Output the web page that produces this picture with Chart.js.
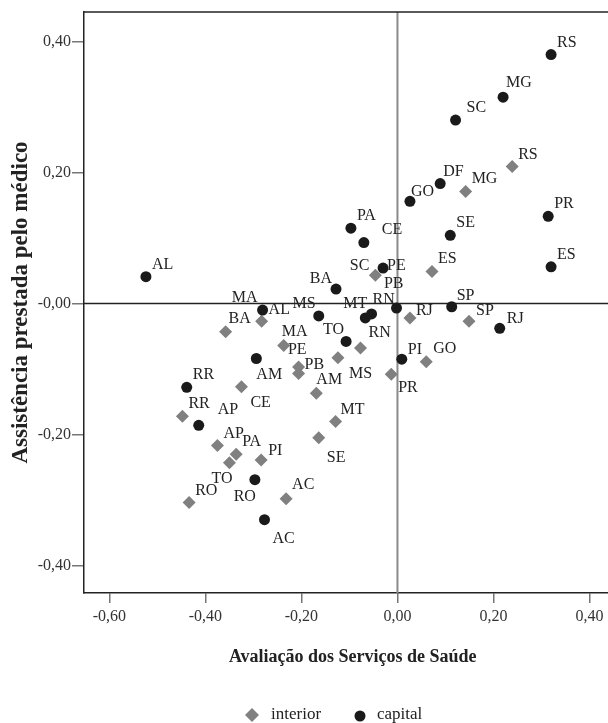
<!DOCTYPE html>
<html>
<head>
<meta charset="utf-8">
<script src="https://cdn.jsdelivr.net/npm/chart.js@4.4.1/dist/chart.umd.min.js"></script>
<style>
  html, body { margin: 0; padding: 0; background: #fff; overflow: hidden; }
  canvas { display: block; }
</style>
</head>
<body>
<!-- the plot frame runs past the right edge of the picture, so the canvas is a bit wider than the window -->
<canvas id="chart" width="628" height="723"></canvas>
<script>
// Capitais
const capitalStates = ["RS", "MG", "SC", "DF", "GO", "PR", "SE", "PA", "CE", "AL", "ES", "PE", "BA", "MA",
    "MS", "MT", "RN", "PB", "SP", "RJ", "TO", "AM", "PI", "RR", "AP", "RO", "AC"];
const capitalX = [0.320, 0.220, 0.121, 0.089, 0.026, 0.314, 0.110, -0.097, -0.070, -0.524, 0.320, -0.030, -0.128, -0.281,
    -0.164, -0.067, -0.054, -0.002, 0.113, 0.213, -0.107, -0.294, 0.009, -0.439, -0.414, -0.297, -0.277];
const capitalY = [0.380, 0.315, 0.280, 0.183, 0.156, 0.133, 0.104, 0.115, 0.093, 0.041, 0.056, 0.054, 0.022, -0.010,
    -0.019, -0.022, -0.016, -0.007, -0.005, -0.038, -0.058, -0.084, -0.085, -0.128, -0.186, -0.269, -0.330];

// Interior
const interiorStates = ["RS", "MG", "SC", "ES", "RJ", "SP", "AL", "BA", "MA", "RN", "MS", "GO", "PE", "PB",
    "PR", "CE", "AM", "MT", "RR", "SE", "AP", "PA", "TO", "PI", "RO", "AC"];
const interiorX = [0.239, 0.142, -0.046, 0.072, 0.026, 0.149, -0.283, -0.358, -0.237, -0.077, -0.124, 0.060, -0.206, -0.206,
    -0.013, -0.325, -0.169, -0.129, -0.448, -0.164, -0.375, -0.336, -0.350, -0.284, -0.434, -0.232];
const interiorY = [0.209, 0.171, 0.043, 0.049, -0.022, -0.027, -0.027, -0.043, -0.064, -0.068, -0.083, -0.089, -0.097, -0.107,
    -0.108, -0.127, -0.137, -0.180, -0.172, -0.205, -0.217, -0.230, -0.243, -0.239, -0.304, -0.298];

// Eixos
const xTicks = [-0.6, -0.4, -0.2, 0, 0.2, 0.4];
const xTickLabels = ["-0,60", "-0,40", "-0,20", "0,00", "0,20", "0,40"];
const yTicks = [-0.4, -0.2, 0, 0.2, 0.4];
const yTickLabels = ["-0,40", "-0,20", "-0,00", "0,20", "0,40"];

const SERIF = "'Liberation Serif', 'Times New Roman', serif";

// label placement next to each marker: [dx, dy, align]
const labelOffsets = {
    "c:MG": [3, -10, "l"], "c:SC": [11, -8, "l"], "c:DF": [3, -8, "l"], "c:GO": [1, -5, "l"],
    "c:CE": [18, -9, "l"], "c:PE": [4, 2, "l"], "c:BA": [-4, -6, "r"], "c:MA": [-5, -8, "r"],
    "c:MS": [-3, -8, "r"], "c:MT": [2, -10, "r"], "c:RN": [1, -10, "l"], "c:PB": [7, -20, "r"],
    "c:TO": [-2, -7, "r"], "c:AM": [0, 20, "l"], "c:AP": [19, -11, "l"], "c:RO": [1, 21, "r"],
    "c:AC": [8, 23, "l"], "c:PI": [6, -5, "l"], "c:RJ": [7, -5, "l"], "c:SP": [5, -7, "l"],
    "i:SC": [-6, -5, "r"], "i:AL": [7, -7, "l"], "i:RJ": [6, -3, "l"], "i:SP": [7, -6, "l"],
    "i:BA": [3, -9, "l"], "i:RN": [8, -11, "l"], "i:MA": [-2, -9, "l"], "i:PE": [8, -13, "r"],
    "i:PB": [6, -5, "l"], "i:MS": [11, 20, "l"], "i:AM": [0, -9, "l"], "i:PR": [7, 18, "l"],
    "i:CE": [9, 20, "l"], "i:SE": [8, 24, "l"], "i:TO": [3, 20, "r"], "i:PI": [7, -5, "l"],
    "i:AC": [6, -10, "l"], "i:GO": [7, -9, "l"], "i:MT": [5, -7, "l"]
};

function toPoints(xs, ys) {
    return xs.map((x, i) => ({ x: x, y: ys[i] }));
}

// state labels beside the markers
const labelPlugin = {
    id: "stateLabels",
    afterDatasetsDraw(chart) {
        const ctx = chart.ctx;
        ctx.save();
        ctx.font = "16px " + SERIF;
        ctx.fillStyle = "#222";
        ctx.textBaseline = "alphabetic";
        chart.data.datasets.forEach((ds, di) => {
            chart.getDatasetMeta(di).data.forEach((el, i) => {
                const name = ds.names[i];
                const off = labelOffsets[ds.key + ":" + name] || [6, -8, "l"];
                ctx.textAlign = off[2] === "r" ? "right" : "left";
                ctx.fillText(name, el.x + off[0], el.y + off[1]);
            });
        });
        ctx.restore();
    }
};

// reference lines at zero + top of frame + legend
const framePlugin = {
    id: "frame",
    beforeDatasetsDraw(chart) {
        const { ctx, chartArea: a, scales } = chart;
        const x0 = scales.x.getPixelForValue(0);
        const y0 = scales.y.getPixelForValue(0);
        ctx.save();
        ctx.strokeStyle = "#8a8a8a";
        ctx.lineWidth = 2;
        ctx.beginPath();
        ctx.moveTo(x0, a.top);
        ctx.lineTo(x0, a.bottom);
        ctx.stroke();
        ctx.strokeStyle = "#222";
        ctx.lineWidth = 1.3;
        ctx.beginPath();
        ctx.moveTo(a.left, y0);
        ctx.lineTo(a.right, y0);
        ctx.stroke();
        ctx.restore();
    },
    afterDraw(chart) {
        const { ctx, chartArea: a } = chart;
        ctx.save();
        ctx.strokeStyle = "#222";
        ctx.lineWidth = 1.5;
        ctx.beginPath();
        ctx.moveTo(a.left, a.top);
        ctx.lineTo(a.right, a.top);
        ctx.stroke();

        // legend
        const ly = 715;
        ctx.fillStyle = "#808080";
        ctx.beginPath();
        ctx.moveTo(252, ly - 7);
        ctx.lineTo(259, ly);
        ctx.lineTo(252, ly + 7);
        ctx.lineTo(245, ly);
        ctx.closePath();
        ctx.fill();
        ctx.fillStyle = "#1a1a1a";
        ctx.beginPath();
        ctx.arc(360, ly + 1, 5.5, 0, Math.PI * 2);
        ctx.fill();
        ctx.fillStyle = "#222";
        ctx.font = "17px " + SERIF;
        ctx.textAlign = "left";
        ctx.textBaseline = "alphabetic";
        ctx.fillText("interior", 271, 719);
        ctx.fillText("capital", 377, 719);
        ctx.restore();
    }
};

new Chart(document.getElementById("chart"), {
    type: "scatter",
    data: {
        datasets: [
            {
                label: "capital",
                key: "c",
                names: capitalStates,
                data: toPoints(capitalX, capitalY),
                pointStyle: "circle",
                pointRadius: 5.5,
                backgroundColor: "#1a1a1a",
                borderWidth: 0
            },
            {
                label: "interior",
                key: "i",
                names: interiorStates,
                data: toPoints(interiorX, interiorY),
                pointStyle: "rectRot",
                pointRadius: 6.5,
                backgroundColor: "#808080",
                borderWidth: 0
            }
        ]
    },
    options: {
        responsive: false,
        animation: false,
        devicePixelRatio: 1,
        layout: { padding: { top: 12, right: 0, bottom: 0, left: 0 } },
        plugins: {
            legend: { display: false },
            tooltip: { enabled: false }
        },
        scales: {
            x: {
                type: "linear",
                min: -0.653,
                max: 0.4667,
                afterBuildTicks: s => { s.ticks = xTicks.map(v => ({ value: v })); },
                afterFit: s => {
                    s.height = 130;
                    s.paddingRight = 0;
                    s.paddingLeft = 0;
                },
                ticks: {
                    callback: (v, i) => xTickLabels[i],
                    font: { family: SERIF, size: 16 },
                    color: "#333",
                    padding: 4,
                    maxRotation: 0,
                    autoSkip: false
                },
                grid: { drawOnChartArea: false, tickLength: 10, color: "#777", lineWidth: 1.5 },
                border: { color: "#222", width: 1.5 },
                title: {
                    display: true,
                    text: "Avaliação dos Serviços de Saúde",
                    font: { family: SERIF, size: 18, weight: "bold" },
                    color: "#222",
                    padding: { top: 0, bottom: 55 }
                }
            },
            y: {
                type: "linear",
                min: -0.442,
                max: 0.445,
                afterBuildTicks: s => { s.ticks = yTicks.map(v => ({ value: v })); },
                afterFit: s => { s.width = 84; },
                ticks: {
                    callback: (v, i) => yTickLabels[i],
                    font: { family: SERIF, size: 16 },
                    color: "#333",
                    padding: 1,
                    autoSkip: false
                },
                grid: { drawOnChartArea: false, tickLength: 12, color: "#777", lineWidth: 1.5 },
                border: { color: "#222", width: 1.5 },
                title: {
                    display: true,
                    text: "Assistência prestada pelo médico",
                    font: { family: SERIF, size: 23, weight: "bold" },
                    color: "#222",
                    padding: { top: 7, bottom: 0 }
                }
            }
        }
    },
    plugins: [framePlugin, labelPlugin]
});
</script>
</body>
</html>
